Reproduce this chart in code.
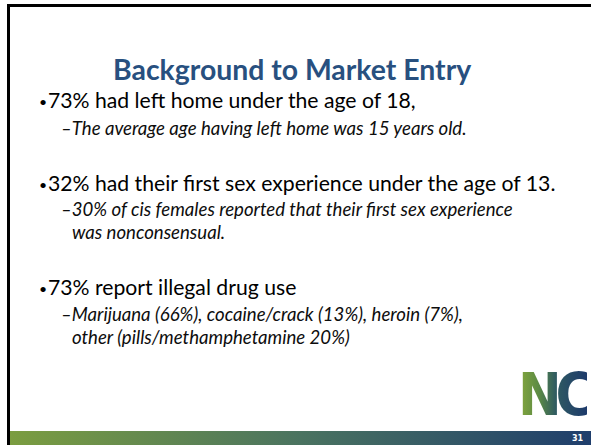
<!DOCTYPE html>
<html lang="en">
  <head>
    <meta charset="UTF-8" />
    <title>Background to Market Entry</title>
    <script src="https://cdn.jsdelivr.net/npm/chart.js"></script>
    <style>
      * {
        box-sizing: border-box;
      }

      body {
        margin: 0;
        padding: 0;
        width: 591px;
        height: 445px;
        overflow: hidden;
        background: #ffffff;
        font-family: Lato, "Open Sans", sans-serif;
      }

      .slide {
        position: relative;
        width: 591px;
        height: 445px;
      }

      .frame-top {
        position: absolute;
        left: 7px;
        top: 4px;
        width: 584px;
        height: 3px;
        background: #000;
      }

      .frame-left {
        position: absolute;
        left: 7px;
        top: 4px;
        width: 3px;
        height: 441px;
        background: #000;
      }

      .line {
        position: absolute;
        white-space: nowrap;
        line-height: 1.2;
      }

      .title {
        font-size: 28.4px;
        font-weight: bold;
        color: #28507f;
      }

      .bullet {
        font-size: 21.2px;
        color: #000;
      }

      .dot {
        font-size: 14px;
        color: #000;
      }

      .sub {
        font-size: 18.6px;
        font-style: italic;
        color: #0d0d0d;
      }

      .bar {
        position: absolute;
        left: 10px;
        top: 431px;
        width: 581px;
        height: 14px;
        background: linear-gradient(to right, #7b9d40 0%, #4a7360 50%, #1f3e6c 100%);
      }

      .page-no {
        position: absolute;
        left: 572px;
        top: 434px;
        font-size: 8px;
        line-height: 9px;
        font-weight: bold;
        color: #fff;
        font-family: "DejaVu Sans", sans-serif;
      }

      .logo {
        position: absolute;
        left: 518px;
        top: 366px;
        font-family: "DejaVu Sans", sans-serif;
        font-weight: bold;
        font-size: 58px;
        line-height: 58px;
        letter-spacing: -7px;
        transform: scaleX(0.9);
        transform-origin: left top;
        background: linear-gradient(to right, #86a83c 0%, #5b8a45 30%, #2f5a62 55%, #1d3a6b 100%);
        -webkit-background-clip: text;
        background-clip: text;
        color: transparent;
      }
    </style>
  </head>

  <body>
    <div class="slide" id="slide">
      <div class="frame-top"></div>
      <div class="frame-left"></div>
      <div id="lines"></div>
      <div class="logo">NC</div>
      <div class="bar"></div>
      <div class="page-no" id="pageNo"></div>
    </div>

    <script>
      const slideTitle = "Background to Market Entry";
      const pageNumber = "31";

      // main points
      const bullets = [
        "73% had left home under the age of 18,",
        "32% had their first sex experience under the age of 13.",
        "73% report illegal drug use",
      ];
      const bulletBaselines = [109, 192, 296];

      // sub points, one row per visual line
      const subLines = [
        ["The average age having left home was 15 years old."],
        [
          "30% of cis females reported that their first sex experience",
          "was nonconsensual.",
        ],
        [
          "Marijuana (66%), cocaine/crack (13%), heroin (7%),",
          "other (pills/methamphetamine 20%)",
        ],
      ];
      const subBaselines = [
        [135],
        [216, 239],
        [321, 344],
      ];

      document.getElementById("pageNo").textContent = pageNumber;

      const linesEl = document.getElementById("lines");
      const ASCENT = 0.987; // Lato ascender, fraction of em

      // place a text so that its baseline sits at y
      const addLine = (cls, x, baseline, size, text) => {
        const el = document.createElement("div");
        el.className = "line " + cls;
        el.style.left = x + "px";
        el.style.top = baseline - ASCENT * size + "px";
        el.textContent = text;
        linesEl.appendChild(el);
        return el;
      };

      const titleEl = addLine("title", 0, 80, 28.4, slideTitle);
      titleEl.style.left = 292 - titleEl.offsetWidth / 2 + "px";

      bullets.forEach((b, i) => {
        addLine("dot", 39, bulletBaselines[i] - 1, 14, "\u2022");
        addLine("bullet", 48, bulletBaselines[i], 21.2, b);
        subLines[i].forEach((s, j) => {
          if (j === 0) {
            addLine("sub", 61, subBaselines[i][j], 18.6, "\u2013" + s);
          } else {
            addLine("sub", 72, subBaselines[i][j], 18.6, s);
          }
        });
      });
    </script>
  </body>
</html>
